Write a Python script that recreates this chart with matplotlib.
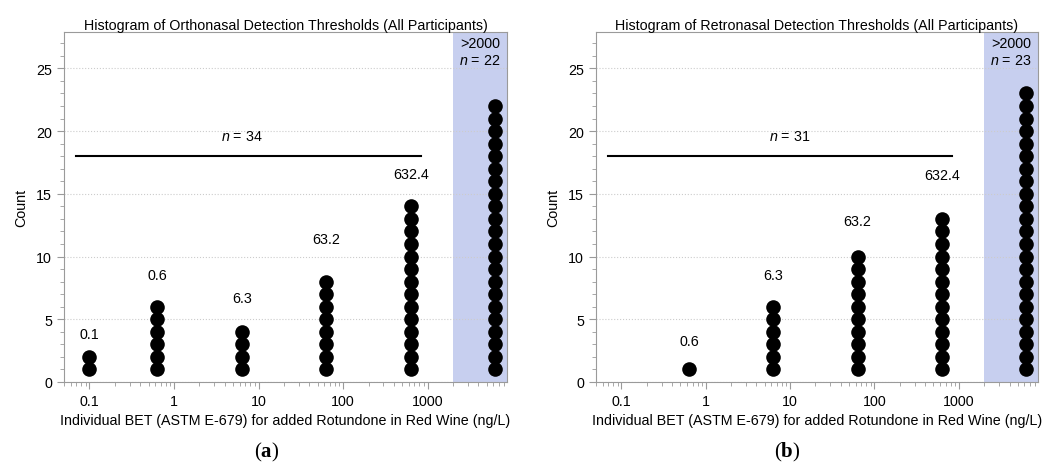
import matplotlib.pyplot as plt
import numpy as np

plt.rcParams['font.family'] = ['Liberation Sans', 'DejaVu Sans']
plt.rcParams['mathtext.fontset'] = 'custom'
plt.rcParams['mathtext.rm'] = 'Liberation Sans'
plt.rcParams['mathtext.it'] = 'Liberation Sans:italic'
plt.rcParams['mathtext.bf'] = 'Liberation Serif:bold'

# BET values (ng/L); the last bin is the ">2000" group
bet_values = [0.1, 0.632, 6.32, 63.2, 632.4, 6324]
bet_labels = ['0.1', '0.6', '6.3', '63.2', '632.4']

ortho_counts = [2, 6, 4, 8, 14, 22]
retro_counts = [0, 1, 6, 10, 13, 23]

ortho_n_below = 34
retro_n_below = 31

titles = ['Histogram of Orthonasal Detection Thresholds (All Participants)',
          'Histogram of Retronasal Detection Thresholds (All Participants)']
panel_tags = ['a', 'b']

# layout only: where the value labels / n-text sit
ortho_label_y = [3.8, 8.5, 6.7, 11.4, 16.6]
retro_label_y = [None, 3.3, 8.5, 12.8, 16.5]
n_text_x = [6.4, 10.0]

SHADE = '#c7cfef'
SPINE = '#9a9a9a'
FS = 10.3


def draw_panel(ax, counts, label_y, n_below, n_x, title):
    ax.set_xscale('log')
    ax.set_xlim(0.05, 8700)
    ax.set_ylim(0, 27.9)
    ax.axvspan(2000, 8700, color=SHADE, zorder=0, lw=0)

    for x, c in zip(bet_values, counts):
        if c == 0:
            continue
        ys = np.arange(1, c + 1)
        ax.plot([x] * c, ys, 'o', color='black', markersize=10.5, zorder=3,
                markeredgewidth=0)

    for x, lab, y in zip(bet_values[:-1], bet_labels, label_y):
        if y is None:
            continue
        ax.text(x, y, lab, ha='center', va='center', fontsize=FS)

    ax.plot([0.07, 840], [18, 18], color='black', lw=1.5, zorder=2)
    ax.text(n_x, 19.6, '$n$ = %d' % n_below, ha='center', va='center', fontsize=FS)

    ax.annotate('>2000\n$n$ = %d' % counts[-1], xy=(1, 1), xycoords='axes fraction',
                xytext=(-5, -3), textcoords='offset points', ha='right', va='top',
                fontsize=FS, linespacing=1.3)

    ax.set_yticks(np.arange(0, 26, 5))
    ax.set_yticks(np.arange(0, 28, 1), minor=True)
    ax.set_xticks([0.1, 1, 10, 100, 1000])
    ax.set_xticklabels(['0.1', '1', '10', '100', '1000'])
    ax.grid(axis='y', which='major', linestyle=':', color='#cccccc', lw=0.8)
    ax.set_axisbelow(True)

    for s in ax.spines.values():
        s.set_color(SPINE)
    ax.tick_params(which='both', direction='out', color=SPINE, labelsize=FS)
    ax.tick_params(which='major', length=5)
    ax.tick_params(which='minor', length=3)

    ax.set_title(title, fontsize=FS, pad=2.5)
    ax.set_xlabel('Individual BET (ASTM E-679) for added Rotundone in Red Wine (ng/L)',
                  fontsize=FS, labelpad=4)
    ax.set_ylabel('Count', fontsize=FS, labelpad=6)


fig = plt.figure(figsize=(10.43, 4.64), dpi=100)
ax1 = fig.add_axes([0.0614, 0.1746, 0.4247, 0.7543])
ax2 = fig.add_axes([0.5714, 0.1746, 0.4238, 0.7543])

draw_panel(ax1, ortho_counts, ortho_label_y, ortho_n_below, n_text_x[0], titles[0])
draw_panel(ax2, retro_counts, retro_label_y, retro_n_below, n_text_x[1], titles[1])

for xc, tag in zip([0.256, 0.755], panel_tags):
    fig.text(xc, 0.024, r'($\mathbf{%s}$)' % tag,
             ha='center', va='center', fontsize=15, family='Liberation Serif')

fig.savefig('out.png', dpi=100)
